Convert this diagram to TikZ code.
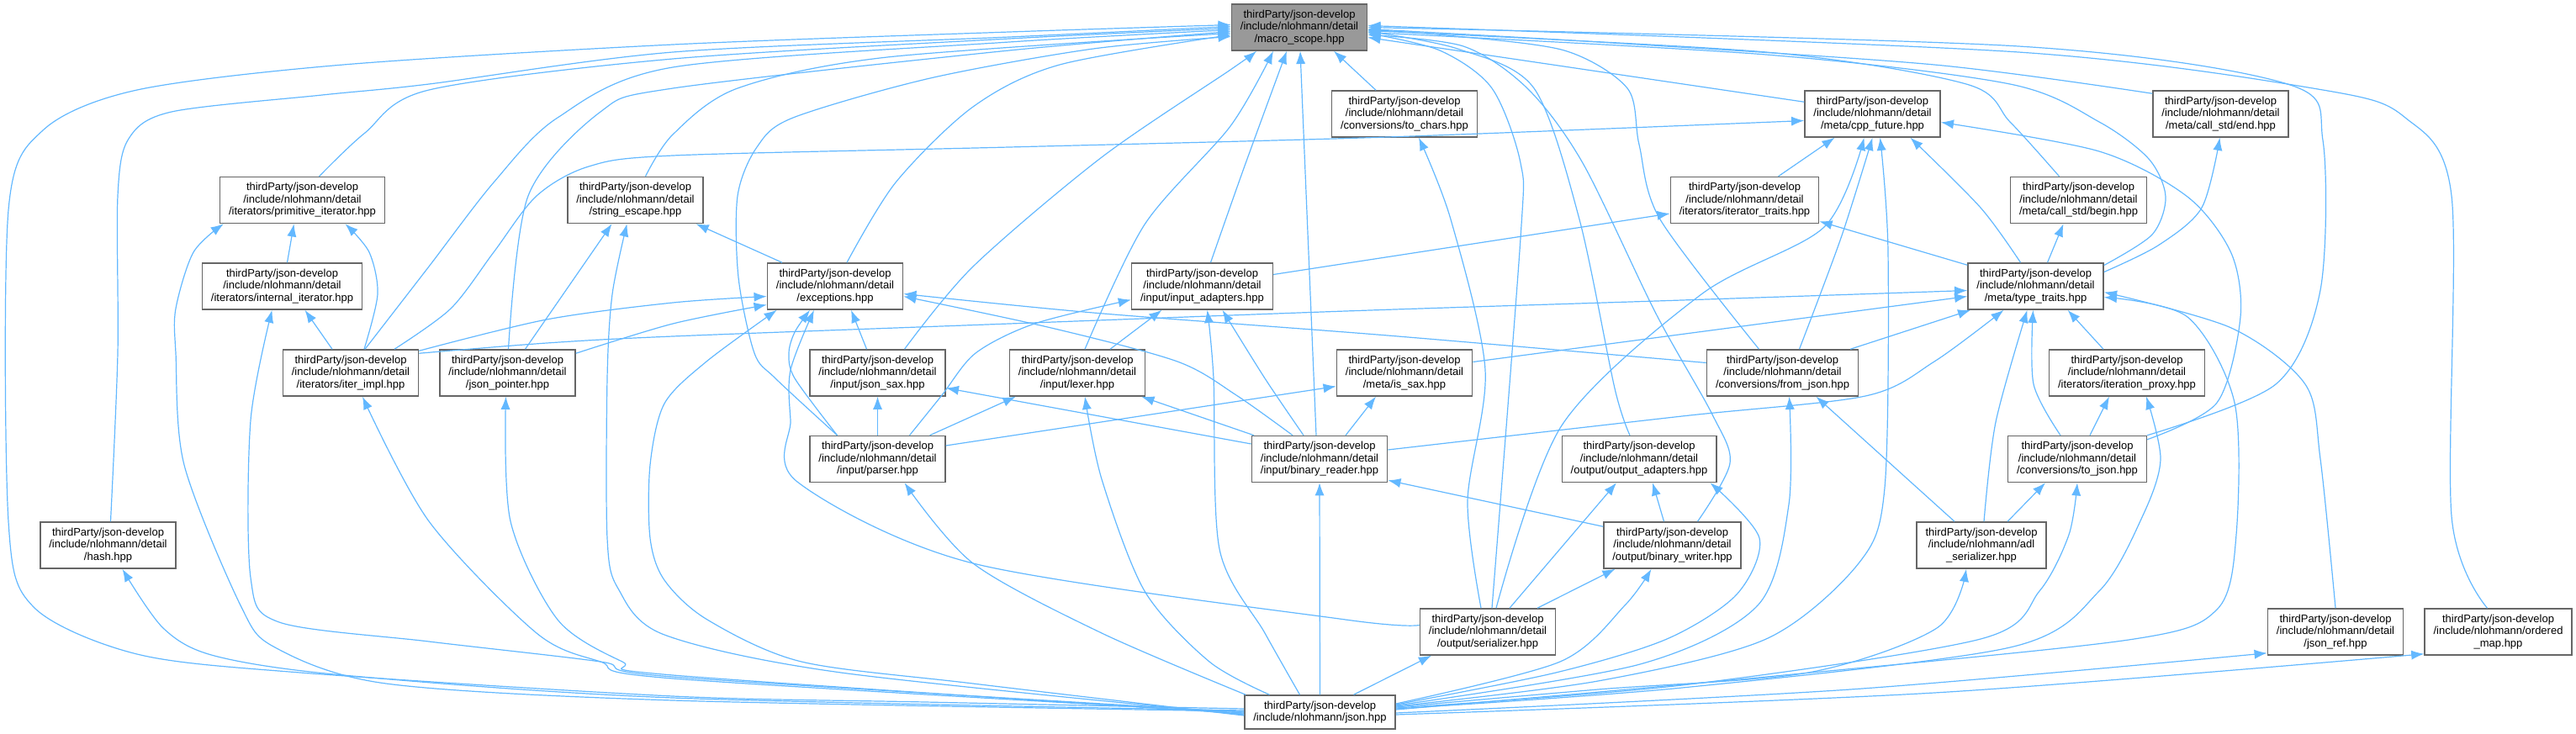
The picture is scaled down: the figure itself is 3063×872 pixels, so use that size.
\documentclass[tikz,border=0pt]{standalone}
\usepackage{fontspec}
\setmainfont{Liberation Sans}
\usetikzlibrary{arrows.meta,calc}
\definecolor{edgeblue}{HTML}{63B8FF}
\definecolor{boxgray}{HTML}{666666}
\definecolor{curgray}{HTML}{999999}

\tikzset{
  file/.style={draw=boxgray, line width=0.375mm, fill=white, align=center,
    inner xsep=2.6mm, inner ysep=1mm, minimum height=13.75mm,
    font=\fontsize{9.25}{10.3}\selectfont},
  cur/.style={file, fill=curgray},
  inc/.style={draw=edgeblue, line width=0.3mm, -{Latex[length=3.8mm,width=2.8mm]}}
}

\begin{document}
\begin{tikzpicture}[x=0.25mm,y=-0.25mm]
\useasboundingbox (0,0) rectangle (3063,872);

\node[cur] (macro) at (1545,32.5) {thirdParty/json-develop\\/include/nlohmann/detail\\/macro\_scope.hpp};

\node[file] (tochars) at (1670,135.5) {thirdParty/json-develop\\/include/nlohmann/detail\\/conversions/to\_chars.hpp};
\node[file] (cppfut) at (2226.5,135.5) {thirdParty/json-develop\\/include/nlohmann/detail\\/meta/cpp\_future.hpp};
\node[file] (callend) at (2640.5,135.5) {thirdParty/json-develop\\/include/nlohmann/detail\\/meta/call\_std/end.hpp};

\node[file] (primit) at (359.5,238) {thirdParty/json-develop\\/include/nlohmann/detail\\/iterators/primitive\_iterator.hpp};
\node[file] (stresc) at (755.5,238) {thirdParty/json-develop\\/include/nlohmann/detail\\/string\_escape.hpp};
\node[file] (ittraits) at (2074.5,238) {thirdParty/json-develop\\/include/nlohmann/detail\\/iterators/iterator\_traits.hpp};
\node[file] (callbegin) at (2471.5,238) {thirdParty/json-develop\\/include/nlohmann/detail\\/meta/call\_std/begin.hpp};

\node[file] (internal) at (335.5,340.5) {thirdParty/json-develop\\/include/nlohmann/detail\\/iterators/internal\_iterator.hpp};
\node[file] (except) at (993,340.5) {thirdParty/json-develop\\/include/nlohmann/detail\\/exceptions.hpp};
\node[file] (inadapt) at (1429.5,340.5) {thirdParty/json-develop\\/include/nlohmann/detail\\/input/input\_adapters.hpp};
\node[file] (typetr) at (2420.5,340.5) {thirdParty/json-develop\\/include/nlohmann/detail\\/meta/type\_traits.hpp};

\node[file] (iterimpl) at (417,443.5) {thirdParty/json-develop\\/include/nlohmann/detail\\/iterators/iter\_impl.hpp};
\node[file] (jptr) at (603.5,443.5) {thirdParty/json-develop\\/include/nlohmann/detail\\/json\_pointer.hpp};
\node[file] (jsax) at (1043.5,443.5) {thirdParty/json-develop\\/include/nlohmann/detail\\/input/json\_sax.hpp};
\node[file] (lexer) at (1281,443.5) {thirdParty/json-develop\\/include/nlohmann/detail\\/input/lexer.hpp};
\node[file] (issax) at (1670,443.5) {thirdParty/json-develop\\/include/nlohmann/detail\\/meta/is\_sax.hpp};
\node[file] (fromjson) at (2119.5,443.5) {thirdParty/json-develop\\/include/nlohmann/detail\\/conversions/from\_json.hpp};
\node[file] (itproxy) at (2529,443.5) {thirdParty/json-develop\\/include/nlohmann/detail\\/iterators/iteration\_proxy.hpp};

\node[file] (parser) at (1043.5,546) {thirdParty/json-develop\\/include/nlohmann/detail\\/input/parser.hpp};
\node[file] (breader) at (1569,546) {thirdParty/json-develop\\/include/nlohmann/detail\\/input/binary\_reader.hpp};
\node[file] (outadapt) at (1949,546) {thirdParty/json-develop\\/include/nlohmann/detail\\/output/output\_adapters.hpp};
\node[file] (tojson) at (2470,546) {thirdParty/json-develop\\/include/nlohmann/detail\\/conversions/to\_json.hpp};

\node[file] (hash) at (128.5,648.5) {thirdParty/json-develop\\/include/nlohmann/detail\\/hash.hpp};
\node[file] (bwriter) at (1988.5,648.5) {thirdParty/json-develop\\/include/nlohmann/detail\\/output/binary\_writer.hpp};
\node[file] (adl) at (2356,648.5) {thirdParty/json-develop\\/include/nlohmann/adl\\\_serializer.hpp};

\node[file] (serial) at (1769,751.5) {thirdParty/json-develop\\/include/nlohmann/detail\\/output/serializer.hpp};
\node[file] (jsonref) at (2777,751.5) {thirdParty/json-develop\\/include/nlohmann/detail\\/json\_ref.hpp};
\node[file] (omap) at (2970.5,751.5) {thirdParty/json-develop\\/include/nlohmann/ordered\\\_map.hpp};

\node[file, minimum height=10mm] (json) at (1569.5,847) {thirdParty/json-develop\\/include/nlohmann/json.hpp};

% into macro_scope, from the left
\draw[inc] plot[smooth] coordinates {($(json.west)+(0,-4)$) (1100,835) (800,828) (357,800) (163,778) (40,722) (10,620) (10,250) (51,155) (163,107) (408,77) (800,53) (1200,38) ($(macro.west)+(0,-3)$)};
\draw[inc] plot[smooth] coordinates {($(hash.north)+(3,0)$) (140,420) (140,233) (153,165) (204,133) (383,113) (510,100) (800,62) (1200,44) ($(macro.west)+(0,-1)$)};
\draw[inc] plot[smooth] coordinates {($(primit.north)+(20,0)$) (434,158) (510,107) (800,70) (1200,46) ($(macro.west)+(0,1)$)};
\draw[inc] plot[smooth] coordinates {($(iterimpl.north)+(17,0)$) (510,317) (587,217) (663,140) (800,80) (1200,50) ($(macro.west)+(0,3)$)};
\draw[inc] plot[smooth] coordinates {($(jptr.north)+(1,0)$) (628,233) (714,133) (800,105) (1200,60) ($(macro.west)+(0,5)$)};
\draw[inc] plot[smooth] coordinates {($(stresc.north)+(12,0)$) (800,160) (877,105) (1055,68) ($(macro.west)+(0,7)$)};
\draw[inc] plot[smooth] coordinates {($(except.north)+(14,0)$) (1065,217) (1157,127) (1260,77) ($(macro.west)+(0,9)$)};
\draw[inc] plot[smooth] coordinates {($(parser.north)+(-48,0)$) (922,450) (897,420) (878,330) (877,233) (900,175) (943,140) (1106,93) (1300,58) ($(macro.west)+(0,11)$)};

% into macro_scope, from below
\draw[inc] plot[smooth] coordinates {($(jsax.north)+(32,0)$) (1157,317) (1310,187) (1463,83) ($(macro.south)+(-51,0)$)};
\draw[inc] plot[smooth] coordinates {($(lexer.north)+(9,0)$) (1361,267) (1463,150) ($(macro.south)+(-31,0)$)};
\draw[inc] plot[smooth] coordinates {($(inadapt.north)+(10,0)$) (1479,200) ($(macro.south)+(-15,0)$)};
\draw[inc] ($(breader.north)+(-4,0)$) -- ($(macro.south)+(1,0)$);
\draw[inc] ($(tochars.north)+(-34,0)$) -- ($(macro.south)+(41,0)$);

% into macro_scope, from the right
\draw[inc] ($(cppfut.north west)+(0,14)$) -- ($(macro.east)+(0,12)$);
\draw[inc] plot[smooth] coordinates {($(callend.north west)+(0,4)$) (2300,77) (1900,50) ($(macro.east)+(0,2)$)};
\draw[inc] plot[smooth] coordinates {($(callbegin.north)+(-23,0)$) (2390,145) (2338,100) (2100,62) ($(macro.east)+(0,4)$)};
\draw[inc] plot[smooth] coordinates {($(typetr.east)+(0,-25)$) (2559,279) (2575,234) (2555,189) (2496,145) (2390,100) (2100,65) ($(macro.east)+(0,6)$)};
\draw[inc] plot[smooth] coordinates {($(fromjson.north)+(-28,0)$) (1974,261) (1949,172) (1935,105) (1860,60) (1720,42) ($(macro.east)+(0,3)$)};
\draw[inc] plot[smooth] coordinates {($(outadapt.north)+(-11,0)$) (1920,462) (1878,261) (1824,105) (1733,58) ($(macro.east)+(0,5)$)};
\draw[inc] plot[smooth] coordinates {($(serial.north)+(5,0)$) (1808,283) (1808,194) (1774,105) (1712,60) ($(macro.east)+(0,7)$)};
\draw[inc] plot[smooth] coordinates {($(bwriter.north)+(30,0)$) (2057,551) (2036,493) (1969,373) (1882,194) (1816,105) (1740,55) ($(macro.east)+(0,9)$)};
\draw[inc] plot[smooth] coordinates {(tojson.north east) (2706,457) (2759,345) (2762,167) (2720,100) (2400,55) ($(macro.east)+(0,0)$)};
\draw[inc] plot[smooth] coordinates {($(omap.north)+(-13,0)$) (2915,614) (2915,233) (2860,140) (2762,107) (2400,62) ($(macro.east)+(0,-2)$)};

% iterators, string_escape, json_pointer
\draw[inc] plot[smooth] coordinates {($(iterimpl.north)+(52,0)$) (536,367) (587,300) (638,233) (700,198) (800,185) (1200,175) (1650,163) ($(cppfut.west)+(0,8)$)};
\draw[inc] plot[smooth] coordinates {($(iterimpl.north)+(16,0)$) (449,350) (439,300) ($(primit.south)+(51,0)$)};
\draw[inc] ($(iterimpl.north)+(-22,0)$) -- ($(internal.south)+(27,0)$);
\draw[inc] plot[smooth] coordinates {($(iterimpl.north east)+(0,2)$) (650,380) (800,360) ($(except.west)+(0,12)$)};
\draw[inc] plot[smooth] coordinates {($(iterimpl.north east)+(0,5)$) (650,408) (800,400) (1200,385) (1600,370) (2000,357) ($(typetr.west)+(0,5)$)};
\draw[inc] ($(internal.north)+(6,0)$) -- ($(primit.south)+(-10,0)$);
\draw[inc] ($(jptr.north)+(21,0)$) -- ($(stresc.south)+(-28,0)$);
\draw[inc] ($(except.north)+(-63,0)$) -- ($(stresc.south)+(72,0)$);
\draw[inc] plot[smooth] coordinates {($(jptr.north east)+(0,5)$) (800,385) ($(except.west)+(0,22)$)};

% exceptions
\draw[inc] plot[smooth] coordinates {($(parser.north)+(-48,0)$) (945,450) (938,420) (945,395) ($(except.south)+(-30,0)$)};
\draw[inc] plot[smooth] coordinates {($(serial.west)+(0,-8)$) (1600,737) (1157,670) (948,573) (940,500) (940,440) ($(except.south)+(-25,0)$)};
\draw[inc] ($(jsax.north)+(-13,0)$) -- ($(except.south)+(19,0)$);
\draw[inc] plot[smooth] coordinates {($(fromjson.west)+(0,-12)$) (1650,399) (1300,372) ($(except.east)+(0,9)$)};
\draw[inc] plot[smooth] coordinates {($(breader.north)+(-32,0)$) (1470,470) (1400,430) (1250,390) ($(except.east)+(0,12)$)};

% input
\draw[inc] (parser.north) -- (jsax.south);
\draw[inc] ($(breader.west)+(0,-18)$) -- ($(jsax.east)+(0,18)$);
\draw[inc] ($(parser.north)+(62,0)$) -- ($(lexer.south west)+(8,0)$);
\draw[inc] ($(breader.north)+(-78,0)$) -- ($(lexer.south east)+(-5,0)$);
\draw[inc] ($(lexer.north)+(39,0)$) -- ($(inadapt.south)+(-48,0)$);
\draw[inc] plot[smooth] coordinates {($(parser.north)+(38,0)$) (1120,470) (1160,420) (1230,385) ($(inadapt.west)+(0,16)$)};
\draw[inc] plot[smooth] coordinates {($(breader.north)+(-19,0)$) (1504,450) ($(inadapt.south)+(24,0)$)};
\draw[inc] ($(inadapt.east)+(0,-14)$) -- ($(ittraits.west)+(0,16)$);
\draw[inc] ($(parser.east)+(0,-16)$) -- ($(issax.west)+(0,16)$);
\draw[inc] ($(breader.north)+(31,0)$) -- ($(issax.south)+(-34,0)$);

% meta
\draw[inc] ($(issax.east)+(0,-13)$) -- ($(typetr.west)+(0,12)$);
\draw[inc] ($(fromjson.north east)+(-10,0)$) -- ($(typetr.south west)+(4,0)$);
\draw[inc] plot[smooth] coordinates {($(breader.east)+(0,-11)$) (2000,495) (2218,471) (2300,430) ($(typetr.south)+(-38,0)$)};
\draw[inc] plot[smooth] coordinates {($(fromjson.north)+(20,0)$) (2189,283) ($(cppfut.south)+(0,0)$)};
\draw[inc] plot[smooth] coordinates {($(serial.north)+(10,0)$) (1857,506) (2023,350) (2169,270) ($(cppfut.south)+(-10,0)$)};
\draw[inc] ($(ittraits.north)+(40,0)$) -- ($(cppfut.south)+(-45,0)$);
\draw[inc] plot[smooth] coordinates {($(typetr.north)+(-18,0)$) (2355,247) ($(cppfut.south)+(45,0)$)};
\draw[inc] plot[smooth] coordinates {($(tojson.north east)+(0,5)$) (2636,479) (2664,377) (2653,301) (2601,234) (2496,180) ($(cppfut.east)+(0,10)$)};
\draw[inc] ($(typetr.north west)+(0,3)$) -- ($(ittraits.south east)+(0,-3)$);
\draw[inc] ($(typetr.north)+(14,0)$) -- ($(callbegin.south)+(-18,0)$);
\draw[inc] plot[smooth] coordinates {($(typetr.east)+(0,-17)$) (2566,292) (2618,247) ($(callend.south)+(-1,0)$)};

% conversions
\draw[inc] ($(itproxy.north)+(-28,0)$) -- ($(typetr.south)+(38,0)$);
\draw[inc] ($(tojson.north)+(15,0)$) -- ($(itproxy.south)+(-21,0)$);
\draw[inc] plot[smooth] coordinates {($(tojson.north)+(-20,0)$) (2418,457) ($(typetr.south)+(-3,0)$)};
\draw[inc] plot[smooth] coordinates {($(adl.north)+(3,0)$) (2373,502) ($(typetr.south)+(-10,0)$)};
\draw[inc] ($(adl.north)+(31,0)$) -- ($(tojson.south)+(-38,0)$);
\draw[inc] ($(adl.north)+(-32,0)$) -- ($(fromjson.south)+(40,0)$);
\draw[inc] plot[smooth] coordinates {(jsonref.north) (2759,546) (2741,457) (2653,390) ($(typetr.east)+(0,7)$)};

% output
\draw[inc] plot[smooth] coordinates {($(serial.north)+(-8,0)$) (1745,596) (1766,440) (1725,261) ($(tochars.south)+(17,0)$)};
\draw[inc] ($(serial.north)+(26,0)$) -- ($(outadapt.south)+(-27,0)$);
\draw[inc] ($(serial.north)+(59,0)$) -- ($(bwriter.south)+(-68,0)$);
\draw[inc] ($(bwriter.north)+(-10,0)$) -- ($(outadapt.south)+(16,0)$);
\draw[inc] ($(bwriter.north west)+(0,6)$) -- ($(breader.south east)+(0,-3)$);

% from json.hpp
\draw[inc] plot[smooth] coordinates {($(json.west)+(0,-2)$) (800,830) (408,803) (255,780) (194,747) ($(hash.south)+(17,0)$)};
\draw[inc] plot[smooth] coordinates {($(json.west)+(0,-1)$) (800,833) (459,813) (327,770) (286,720) (219,553) (209,420) (209,367) (230,300) ($(primit.south west)+(5,0)$)};
\draw[inc] plot[smooth] coordinates {($(json.west)+(0,0)$) (800,805) (714,787) (510,763) (332,740) (298,687) (298,500) ($(internal.south)+(-12,0)$)};
\draw[inc] plot[smooth] coordinates {($(json.west)+(0,1)$) (800,807) (714,787) (638,753) (510,620) ($(iterimpl.south)+(14,0)$)};
\draw[inc] plot[smooth] coordinates {($(json.west)+(0,2)$) (800,803) (740,787) (663,737) (607,620) ($(jptr.south)+(-2,0)$)};
\draw[inc] plot[smooth] coordinates {($(json.west)+(0,3)$) (1000,800) (790,755) (735,700) (722,640) (722,450) (728,350) ($(stresc.south)+(-10,0)$)};
\draw[inc] plot[smooth] coordinates {($(json.west)+(0,4)$) (1157,813) (953,787) (841,737) (790,690) (773,640) (773,553) (790,480) (840,430) ($(except.south west)+(12,0)$)};
\draw[inc] plot[smooth] coordinates {($(json.north west)+(2,0)$) (1310,753) (1157,670) ($(parser.south)+(32,0)$)};
\draw[inc] plot[smooth] coordinates {($(json.north)+(-60,0)$) (1438,787) (1361,703) (1310,570) ($(lexer.south)+(9,0)$)};
\draw[inc] plot[smooth] coordinates {($(json.north)+(-24,0)$) (1504,753) (1450,653) (1443,450) ($(inadapt.south)+(6,0)$)};
\draw[inc] (json.north) -- (breader.south);
\draw[inc] ($(json.north)+(40,0)$) -- ($(serial.south)+(-67,0)$);
\draw[inc] plot[smooth] coordinates {($(json.east)+(0,-10)$) (1855,787) (1932,720) ($(bwriter.south)+(-25,0)$)};
\draw[inc] plot[smooth] coordinates {($(json.east)+(0,-9)$) (1850,800) (1982,760) (2065,707) (2092,640) ($(outadapt.south east)+(-8,0)$)};
\draw[inc] plot[smooth] coordinates {($(json.east)+(0,-8)$) (1950,790) (2090,720) (2127,600) ($(fromjson.south)+(8,0)$)};
\draw[inc] plot[smooth] coordinates {($(json.east)+(0,-7)$) (1900,810) (2100,760) (2210,670) (2241,580) (2245,300) ($(cppfut.south)+(9,0)$)};
\draw[inc] plot[smooth] coordinates {($(json.east)+(0,-6)$) (1900,820) (2150,800) (2303,747) ($(adl.south)+(-18,0)$)};
\draw[inc] plot[smooth] coordinates {($(json.east)+(0,-5)$) (2000,815) (2355,760) (2425,703) (2460,636) (tojson.south)};
\draw[inc] plot[smooth] coordinates {($(json.east)+(0,-4)$) (2000,818) (2390,770) (2496,703) (2548,613) (2569,546) ($(itproxy.south)+(23,0)$)};
\draw[inc] plot[smooth] coordinates {($(json.east)+(0,-3)$) (2100,805) (2531,761) (2636,725) (2659,636) (2657,479) (2601,377) ($(typetr.east)+(0,13)$)};
\draw[inc] plot[smooth] coordinates {($(json.east)+(0,1)$) (2200,820) ($(jsonref.south west)+(0,-3)$)};
\draw[inc] plot[smooth] coordinates {($(json.east)+(0,3)$) (2300,824) ($(omap.south west)+(0,-2)$)};
\end{tikzpicture}
\end{document}
